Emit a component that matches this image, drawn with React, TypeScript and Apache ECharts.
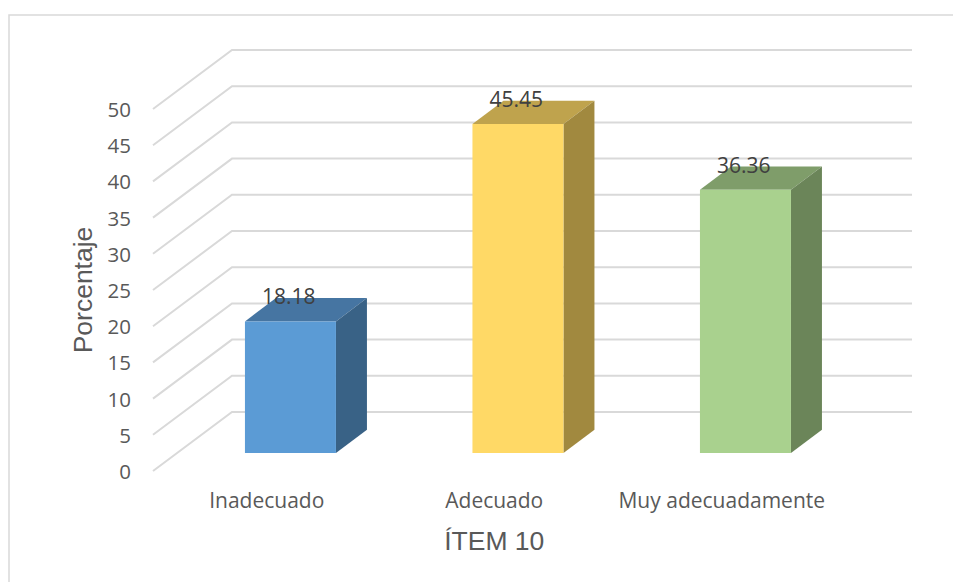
import React, { useEffect, useRef } from "react";
import * as echarts from "echarts";

const categories = ["Inadecuado", "Adecuado", "Muy adecuadamente"];
const values = [18.18, 45.45, 36.36];
const valueLabels = ["18.18", "45.45", "36.36"];
const ticks = [0, 5, 10, 15, 20, 25, 30, 35, 40, 45, 50];
const frontColors = ["#5B9BD5", "#FFD966", "#A9D18E"];
const topColors = ["#4675A2", "#BFA34D", "#7F9D6A"];
const sideColors = ["#396286", "#A1893F", "#6B8559"];

const FONT = "'Open Sans', sans-serif";
const TITLE_FONT = "'Liberation Sans', Arial, sans-serif";
const WALL_DX = 79;
const WALL_DY = -59;
const WALL_W = 680;
const BAR_DX = 23.7;
const BAR_DY = -18;
const BAR_DEPTH_X = 31;
const BAR_DEPTH_Y = -23.3;

export default function App() {
  const ref = useRef<HTMLDivElement>(null);
  useEffect(() => {
    document.body.style.margin = "0";
    const chart = echarts.init(ref.current!, undefined, { renderer: "svg" });
    chart.setOption({
      animation: false,
      backgroundColor: "#ffffff",
      textStyle: { fontFamily: FONT },
      graphic: [
        {
          type: "rect",
          silent: true,
          z: -10,
          shape: { x: 9, y: 15, width: 1000, height: 1000 },
          style: { fill: "none", stroke: "#d9d9d9", lineWidth: 1.5 },
        },
      ],
      grid: { left: 153, top: 109, width: 682.5, height: 362 },
      xAxis: {
        type: "category",
        data: categories,
        axisLine: { show: false },
        axisTick: { show: false },
        axisLabel: { color: "#595959", fontSize: 21, margin: 18, fontFamily: FONT, interval: 0 },
        name: "ÍTEM 10",
        nameLocation: "middle",
        nameGap: 56,
        nameTextStyle: { color: "#595959", fontSize: 26.5, fontFamily: TITLE_FONT },
      },
      yAxis: {
        type: "value",
        min: 0,
        max: 50,
        interval: 5,
        axisLine: { show: false },
        axisTick: { show: false },
        splitLine: { show: false },
        axisLabel: { color: "#595959", fontSize: 20.5, margin: 22, fontFamily: FONT },
        name: "Porcentaje",
        nameLocation: "middle",
        nameGap: 57,
        nameTextStyle: { color: "#595959", fontSize: 26.5, fontFamily: TITLE_FONT },
      },
      series: [
        {
          type: "custom",
          silent: true,
          clip: false,
          z: 1,
          data: ticks.map((t) => [0, t]),
          encode: { x: 0, y: 1 },
          renderItem: (params: any, api: any) => {
            const y = api.coord([0, api.value(1)])[1];
            const x = params.coordSys.x;
            return {
              type: "polyline",
              shape: {
                points: [
                  [x, y],
                  [x + WALL_DX, y + WALL_DY],
                  [x + WALL_DX + WALL_W, y + WALL_DY],
                ],
              },
              style: { fill: "none", stroke: "#d9d9d9", lineWidth: 2 },
            };
          },
        },
        {
          type: "custom",
          silent: true,
          clip: false,
          z: 2,
          data: values.map((v, i) => [i, v]),
          encode: { x: 0, y: 1 },
          renderItem: (params: any, api: any) => {
            const i = params.dataIndex;
            const top = api.coord([api.value(0), api.value(1)]);
            const base = api.coord([api.value(0), 0]);
            const w = api.size([1, 0])[0] * 0.4;
            const l = top[0] + BAR_DX - w / 2;
            const r = l + w;
            const t = top[1] + BAR_DY;
            const b = base[1] + BAR_DY;
            const dx = BAR_DEPTH_X;
            const dy = BAR_DEPTH_Y;
            return {
              type: "group",
              children: [
                {
                  type: "polygon",
                  shape: { points: [[l, t], [r, t], [r + dx, t + dy], [l + dx, t + dy]] },
                  style: { fill: topColors[i] },
                },
                {
                  type: "polygon",
                  shape: { points: [[r, t], [r + dx, t + dy], [r + dx, b + dy], [r, b]] },
                  style: { fill: sideColors[i] },
                },
                {
                  type: "rect",
                  shape: { x: l, y: t, width: w, height: b - t },
                  style: { fill: frontColors[i] },
                },
                {
                  type: "text",
                  z2: 10,
                  style: {
                    text: valueLabels[i],
                    x: (l + r) / 2 - 1.7,
                    y: t - 25,
                    align: "center",
                    verticalAlign: "middle",
                    fill: "#404040",
                    fontSize: 21,
                    fontFamily: FONT,
                  },
                },
              ],
            };
          },
        },
      ],
    });
    return () => chart.dispose();
  }, []);
  return (
    <div
      ref={ref}
      style={{ position: "fixed", left: 0, top: 0, width: 953, height: 582, overflow: "hidden" }}
    />
  );
}
